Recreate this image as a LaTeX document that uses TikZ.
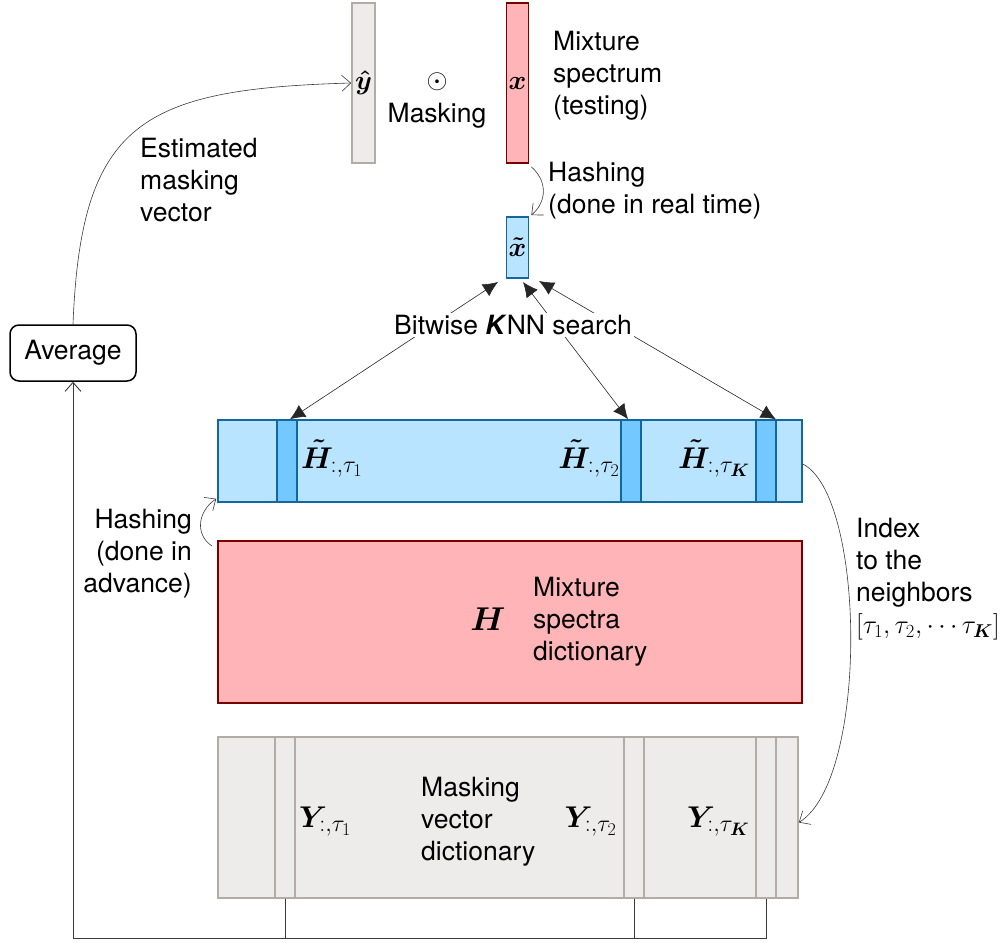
\RequirePackage{fix-cm}
\documentclass[tikz,border=0pt]{standalone}
\usepackage[no-math]{fontspec}
\setmainfont{TeX Gyre Heros}
\usepackage{amsmath,bm}
\usetikzlibrary{arrows.meta,calc}
% dictionary column labels carry larger subscripts
\DeclareMathSizes{30}{30}{24}{18}

\definecolor{bluefill}{HTML}{B8E4FF}
\definecolor{bluecol}{HTML}{73C8FF}
\definecolor{blueedge}{HTML}{11679E}
\definecolor{pinkfill}{HTML}{FFB5B8}
\definecolor{redge}{HTML}{7A0000}
\definecolor{grayfill}{HTML}{EEEBEB}
\definecolor{grayedge}{HTML}{B2ACA7}
\definecolor{wire}{HTML}{3A3A3A}

\begin{document}
\begin{tikzpicture}[x=1pt,y=-1pt,
  lbl/.style={font=\fontsize{26.5}{32}\selectfont, align=left, inner sep=0pt},
  hlbl/.style={font=\fontsize{30}{32}\selectfont, inner sep=0pt},
  ylbl/.style={font=\fontsize{30}{32}\selectfont, inner sep=0pt},
  bigm/.style={font=\fontsize{33}{34}\selectfont, inner sep=0pt},
  bar/.style={draw, line width=1.6pt, inner sep=0pt, font=\fontsize{27}{32}\selectfont},
  bluebar/.style={bar, draw=blueedge, fill=bluefill},
  bluecolumn/.style={bar, draw=blueedge, fill=bluecol, minimum width=20, minimum height=82},
  pinkbar/.style={bar, draw=redge, fill=pinkfill},
  graybar/.style={bar, draw=grayedge, fill=grayfill},
  graycolumn/.style={bar, draw=grayedge, fill=grayfill, minimum width=20, minimum height=161},
  wirearrow/.style={draw=wire, line width=0.6pt, -{Straight Barb[length=9pt,width=16pt]}},
  plainwire/.style={draw=wire, line width=0.6pt},
  knn/.style={draw=black!85, line width=0.6pt,
    {Latex[length=15pt,width=14pt]}-{Latex[length=15pt,width=14pt]}},
]
\useasboundingbox (0,0) rectangle (1008,942);

% test-time vectors
\node[graybar, minimum width=23, minimum height=160] (yhat) at (363.5,83) {$\bm{\hat{y}}$};
\node[pinkbar, minimum width=22, minimum height=160] (xvec) at (517.5,83) {$\bm{x}$};
\node[bluebar, minimum width=22, minimum height=61] (xt) at (517.5,247.5) {$\bm{\tilde{x}}$};

\node[font=\fontsize{27}{32}\selectfont, inner sep=0pt] (odot) at (437,82) {$\odot$};
\node[lbl, anchor=center] (masklbl) at (437,116) {Masking};
\node[lbl, anchor=west] (mixlbl) at (553,76) {Mixture\\spectrum\\(testing)};
\node[lbl, anchor=west] (hashrt) at (548,191) {Hashing\\(done in real time)};

% hashed dictionary
\node[bluebar, minimum width=584, minimum height=82] (Ht) at (510,461) {};
\node[bluecolumn] (hc1) at (287,461) {};
\node[bluecolumn] (hc2) at (631,461) {};
\node[bluecolumn] (hc3) at (766,461) {};
\node[hlbl, anchor=base west] (hl1) at (301,468) {$\bm{\tilde{H}}_{:,\tau_1}$};
\node[hlbl, anchor=base east] (hl2) at (620,468) {$\bm{\tilde{H}}_{:,\tau_2}$};
\node[hlbl, anchor=base west] (hl3) at (678,468) {$\bm{\tilde{H}}_{:,\tau_{\bm{K}}}$};

% mixture spectra dictionary
\node[pinkbar, minimum width=584, minimum height=162] (H) at (510,622) {};
\node[bigm, anchor=base] (Hsym) at (488,630) {$\bm{H}$};
\node[lbl, anchor=west] (Hlbl) at (533,622) {Mixture\\spectra\\dictionary};

% masking vector dictionary
\node[graybar, minimum width=580, minimum height=161] (Y) at (508,817.5) {};
\node[graycolumn] (yc1) at (285,817.5) {};
\node[graycolumn] (yc2) at (634,817.5) {};
\node[graycolumn] (yc3) at (766,817.5) {};
\node[ylbl, anchor=base west] (yl1) at (299,827) {$\bm{Y}_{:,\tau_1}$};
\node[ylbl, anchor=base east] (yl2) at (617,827) {$\bm{Y}_{:,\tau_2}$};
\node[ylbl, anchor=base west] (yl3) at (687,827) {$\bm{Y}_{:,\tau_{\bm{K}}}$};
\node[lbl, anchor=west] (Ylbl) at (421,822) {Masking\\vector\\dictionary};

% averaging
\node[draw, line width=1.5pt, rounded corners=9pt, minimum width=126, minimum height=56,
  font=\fontsize{26.5}{32}\selectfont] (avg) at (73,353) {Average};

% nearest-neighbour search
\coordinate (k1) at (498,282);
\coordinate (k2) at (523,282);
\coordinate (k3) at (539,281);
\draw[knn] (k1) -- ([xshift=3pt]hc1.north);
\draw[knn] (k2) -- ([xshift=-3pt]hc2.north);
\draw[knn] (k3) -- ([xshift=-1pt]hc3.north east);
\node[lbl, fill=white, inner sep=2pt] (knnlbl) at (513,325) {Bitwise \textbf{\textit{K}}NN search};

% hashing curves
\draw[wirearrow] ([shift={(2,3)}]xvec.south east) .. controls +(16,14) and +(16,-14) .. ([shift={(2,-1)}]xt.north east);
\draw[wirearrow] ([shift={(-5,6)}]H.north west) .. controls +(-18,-12) and +(-18,12) .. ([shift={(-1,-4)}]Ht.south west);
\node[lbl, align=right, anchor=east] (hashadv) at (192,554) {Hashing\\(done in\\advance)};

% neighbour indices
\draw[wirearrow] ([yshift=-3pt]Ht.east) .. controls +(63,32) and +(70,-43) .. ([yshift=-5pt]Y.east);
\node[lbl, fill=white, inner sep=1pt, anchor=west] (idx) at (855,579)
  {Index\\to the\\neighbors\\$[\tau_1,\tau_2,\cdots\tau_{\bm{K}}]$};

% gather selected masking vectors and feed them back
\path (avg.south |- 0,938) coordinate (corner);
\draw[plainwire] (yc3.south) |- (corner);
\draw[plainwire] (yc2.south) |- (corner);
\draw[plainwire] (yc1.south) |- (corner);
\draw[wirearrow, line width=0.9pt] (corner) -- (avg.south);
\draw[wirearrow] (avg.north) .. controls +(8,-202) and +(-210,6) .. (yhat.west);
\node[lbl, anchor=west] (estlbl) at (140,180) {Estimated\\masking\\vector};
\end{tikzpicture}
\end{document}
